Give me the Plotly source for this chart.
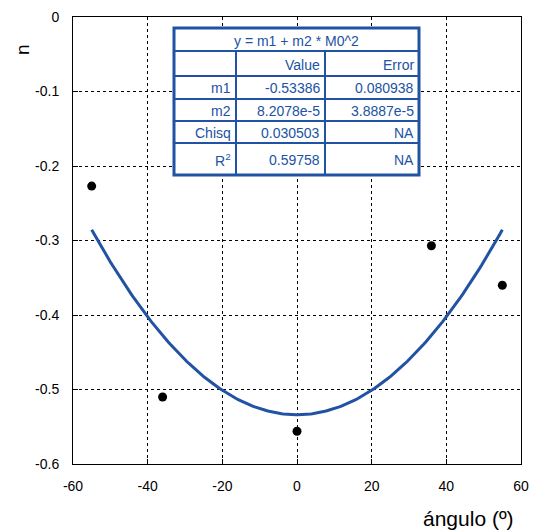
import numpy as np
import plotly.graph_objects as go

# data points
angles = [-55, -36, 0, 36, 55]
n_values = [-0.227, -0.510, -0.556, -0.307, -0.360]

# fit parameters (from the fit table)
m1 = -0.53386
m2 = 8.2078e-5
fit_table_rows = [
    ["", "Value", "Error"],
    ["m1", "-0.53386", "0.080938"],
    ["m2", "8.2078e-5", "3.8887e-5"],
    ["Chisq", "0.030503", "NA"],
    ["R<sup>2</sup>", "0.59758", "NA"],
]
fit_title = "y = m1 + m2 * M0^2"

x_ticks = [-60, -40, -20, 0, 20, 40, 60]
x_ticktext = ["-60", "-40", "-20", "0", "20", "40", "60"]
y_ticks = [0, -0.1, -0.2, -0.3, -0.4, -0.5, -0.6]
y_ticktext = ["0", "-0.1", "-0.2", "-0.3", "-0.4", "-0.5", "-0.6"]

fit_x = np.linspace(min(angles), max(angles), 200)
fit_y = m1 + m2 * fit_x ** 2

BLUE = "#2152a3"
W, H = 536, 532
L, R, T, B = 73, 15, 17, 68
PW, PH = W - L - R, H - T - B


def px(x):
    return (x - L) / PW


def py(y):
    return (H - B - y) / PH


fig = go.Figure()
fig.add_trace(go.Scatter(x=fit_x, y=fit_y, mode="lines",
                         line=dict(color=BLUE, width=3), showlegend=False))
fig.add_trace(go.Scatter(x=angles, y=n_values, mode="markers",
                         marker=dict(color="black", size=9), showlegend=False))

font = dict(family="Liberation Sans, Arial, sans-serif", size=14, color="black")

fig.update_layout(
    width=W, height=H, autosize=False,
    margin=dict(l=L, r=R, t=T, b=B, pad=0, autoexpand=False),
    paper_bgcolor="white", plot_bgcolor="white",
    font=font,
    xaxis=dict(range=[-60, 60], tickvals=x_ticks, ticktext=x_ticktext,
               showgrid=True, gridcolor="black", griddash="dot", gridwidth=1,
               zeroline=False, showline=True, mirror=True, linecolor="black",
               linewidth=1, ticks="inside", ticklen=5, tickcolor="black",
               ticklabelstandoff=9, automargin=False),
    yaxis=dict(range=[-0.6, 0], tickvals=y_ticks, ticktext=y_ticktext,
               showgrid=True, gridcolor="black", griddash="dot", gridwidth=1,
               zeroline=False, showline=True, mirror=True, linecolor="black",
               linewidth=1, ticks="inside", ticklen=5, tickcolor="black",
               ticklabelstandoff=10, automargin=False),
)

# axis titles
fig.add_annotation(text="ángulo (º)", xref="paper", yref="paper",
                   x=px(516), y=py(518), xanchor="right", yanchor="middle",
                   showarrow=False, font=dict(family=font["family"], size=21, color="black"))
fig.add_annotation(text="n", xref="paper", yref="paper",
                   x=px(22), y=py(50), xanchor="center", yanchor="middle",
                   textangle=-90, showarrow=False,
                   font=dict(family=font["family"], size=19, color="black"))

# fit table
tx0, tx1 = 174, 419
col_edges = [174, 236, 325, 419]
row_edges = [28, 51, 76, 99, 121, 143, 175]
fig.add_shape(type="rect", xref="paper", yref="paper",
              x0=px(tx0), x1=px(tx1), y0=py(row_edges[-1]), y1=py(row_edges[0]),
              line=dict(color=BLUE, width=3), fillcolor="white", layer="above")
for ry in row_edges[1:-1]:
    fig.add_shape(type="line", xref="paper", yref="paper",
                  x0=px(tx0), x1=px(tx1), y0=py(ry), y1=py(ry),
                  line=dict(color=BLUE, width=2), layer="above")
for cx in col_edges[1:-1]:
    fig.add_shape(type="line", xref="paper", yref="paper",
                  x0=px(cx), x1=px(cx), y0=py(row_edges[-1]), y1=py(row_edges[1]),
                  line=dict(color=BLUE, width=2), layer="above")

tfont = dict(family=font["family"], size=14, color=BLUE)
fig.add_annotation(text=fit_title, xref="paper", yref="paper",
                   x=px((tx0 + tx1) / 2), y=py((row_edges[0] + row_edges[1]) / 2 + 1),
                   xanchor="center", yanchor="middle", showarrow=False, font=tfont)
for i, row in enumerate(fit_table_rows):
    yc = (row_edges[i + 1] + row_edges[i + 2]) / 2 + 1
    for j, txt in enumerate(row):
        if not txt:
            continue
        fig.add_annotation(text=txt, xref="paper", yref="paper",
                           x=px(col_edges[j + 1] - 3), y=py(yc),
                           xanchor="right", yanchor="middle", showarrow=False, font=tfont)

fig.write_html("out.html", config={"displayModeBar": False},
               post_script="document.body.style.margin='0';document.body.style.padding='0';")
